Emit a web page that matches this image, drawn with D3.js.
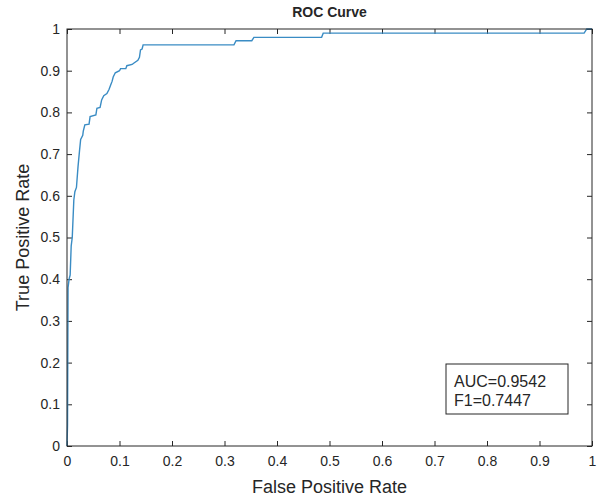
<!DOCTYPE html>
<html>
<head>
<meta charset="utf-8">
<script src="https://cdn.jsdelivr.net/npm/d3@7"></script>
<style>
  body { margin: 0; background: #fff; }
  text { font-family: "Liberation Sans", Arial, sans-serif; fill: #262626; }
</style>
</head>
<body>
<div id="chart"></div>
<script>
// ROC points
const fpr = [0, 0.001, 0.002, 0.004, 0.006, 0.008, 0.010, 0.013, 0.015, 0.018,
             0.021, 0.024, 0.026, 0.030, 0.031, 0.034, 0.042, 0.044, 0.055, 0.057,
             0.063, 0.066, 0.070, 0.076, 0.080, 0.083, 0.086, 0.088, 0.092, 0.100,
             0.102, 0.112, 0.114, 0.124, 0.127, 0.135, 0.138, 0.140, 0.143, 0.145,
             0.318, 0.322, 0.352, 0.356, 0.485, 0.488, 0.985, 0.990, 1];
const tpr = [0, 0.05, 0.38, 0.40, 0.41, 0.48, 0.50, 0.59, 0.61, 0.62,
             0.67, 0.71, 0.735, 0.745, 0.755, 0.77, 0.772, 0.79, 0.794, 0.81,
             0.812, 0.83, 0.84, 0.845, 0.855, 0.865, 0.875, 0.885, 0.895, 0.90,
             0.905, 0.905, 0.912, 0.915, 0.918, 0.925, 0.932, 0.95, 0.952, 0.962,
             0.962, 0.972, 0.972, 0.98, 0.98, 0.99, 0.99, 1, 1];
const ticks = [0, 0.1, 0.2, 0.3, 0.4, 0.5, 0.6, 0.7, 0.8, 0.9, 1];
const legendLines = ["AUC=0.9542", "F1=0.7447"];

const W = 600, H = 499;
const margin = { top: 29, right: 8, bottom: 53, left: 67 },
      width = W - margin.left - margin.right,
      height = H - margin.top - margin.bottom;

const root = d3.select("#chart").append("svg")
  .attr("width", W).attr("height", H);

const svg = root.append("g")
  .attr("transform", `translate(${margin.left},${margin.top})`);

const x = d3.scaleLinear().domain([0, 1]).range([0, width]);
const y = d3.scaleLinear().domain([0, 1]).range([height, 0]);

const fmt = d => d === 0 || d === 1 ? String(d) : d.toFixed(1);
const tickLen = 5;

function styleAxis(g) {
  g.select(".domain").remove();
  g.selectAll(".tick line").attr("stroke", "#262626");
  g.selectAll(".tick text").style("font-size", "14px").attr("fill", "#262626");
}

// bottom & left (ticks pointing inward)
svg.append("g")
  .attr("transform", `translate(0,${height})`)
  .call(d3.axisBottom(x).tickValues(ticks).tickFormat(fmt).tickSizeInner(-tickLen).tickSizeOuter(0).tickPadding(10))
  .call(styleAxis);

svg.append("g")
  .call(d3.axisLeft(y).tickValues(ticks).tickFormat(fmt).tickSizeInner(-tickLen).tickSizeOuter(0).tickPadding(7))
  .call(styleAxis);

// top & right ticks, no labels
svg.append("g")
  .call(d3.axisTop(x).tickValues(ticks).tickFormat("").tickSizeInner(-tickLen).tickSizeOuter(0))
  .call(styleAxis);

svg.append("g")
  .attr("transform", `translate(${width},0)`)
  .call(d3.axisRight(y).tickValues(ticks).tickFormat("").tickSizeInner(-tickLen).tickSizeOuter(0))
  .call(styleAxis);

// curve
const pts = fpr.map((f, i) => [f, tpr[i]]);
svg.append("path")
  .datum(pts)
  .attr("fill", "none")
  .attr("stroke", "#3a8cc4")
  .attr("stroke-width", 1.4)
  .attr("d", d3.line().x(d => x(d[0])).y(d => y(d[1])));

// box
svg.append("rect")
  .attr("x", 0).attr("y", 0)
  .attr("width", width).attr("height", height)
  .attr("fill", "none")
  .attr("stroke", "#262626")
  .attr("stroke-width", 1);

// labels
svg.append("text")
  .attr("x", width / 2).attr("y", -12)
  .attr("text-anchor", "middle")
  .style("font-size", "14px").style("font-weight", "bold")
  .attr("fill", "#000")
  .text("ROC Curve");

svg.append("text")
  .attr("x", width / 2).attr("y", height + 47)
  .attr("text-anchor", "middle")
  .style("font-size", "18px")
  .text("False Positive Rate");

svg.append("text")
  .attr("transform", "rotate(-90)")
  .attr("x", -height / 2).attr("y", -38)
  .attr("text-anchor", "middle")
  .style("font-size", "18px")
  .text("True Positive Rate");

// annotation box
const box = svg.append("g")
  .attr("transform", `translate(${446 - margin.left},${364 - margin.top})`);
box.append("rect")
  .attr("width", 122).attr("height", 50)
  .attr("fill", "#fff")
  .attr("stroke", "#262626");
box.selectAll("text.lg")
  .data(legendLines)
  .join("text")
  .attr("class", "lg")
  .attr("x", 8)
  .attr("y", (d, i) => 23 + i * 19)
  .style("font-size", "16px")
  .attr("fill", "#000")
  .text(d => d);
</script>
</body>
</html>
